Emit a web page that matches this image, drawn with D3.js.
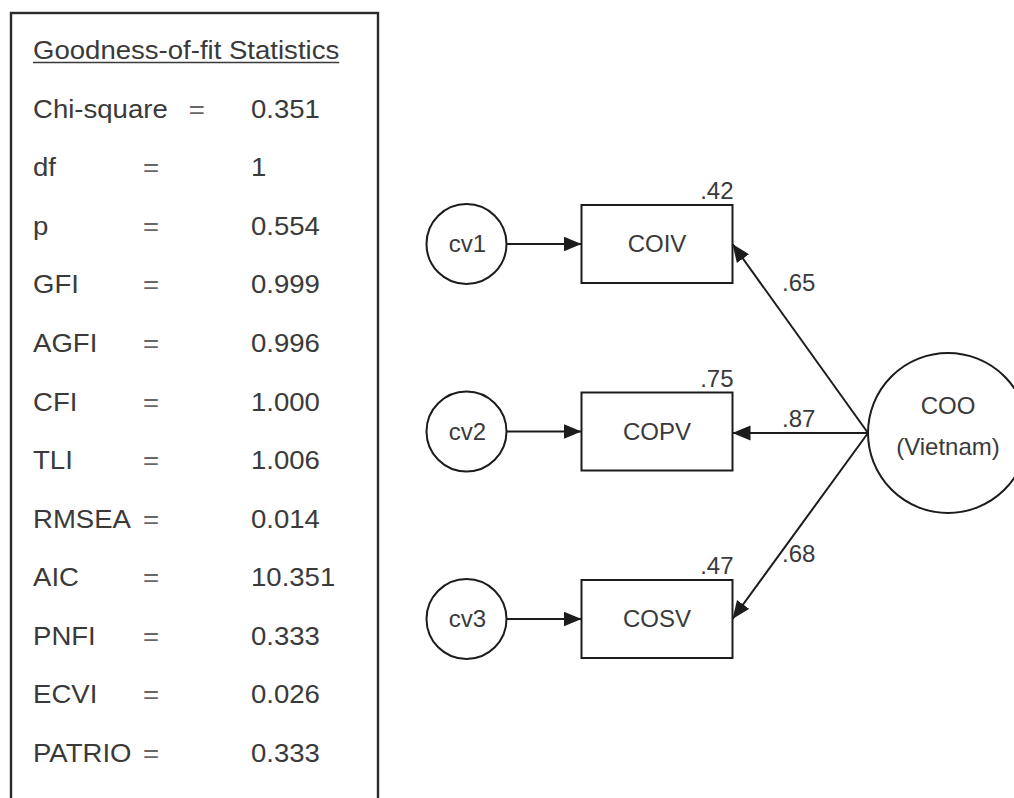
<!DOCTYPE html>
<html>
<head>
<meta charset="utf-8">
<script src="https://cdn.jsdelivr.net/npm/d3@7"></script>
<style>
  html, body { margin: 0; background: #fff; }
  svg { display: block; }
  text { font-family: "Liberation Sans", Arial, Helvetica, sans-serif; }
</style>
</head>
<body>
<svg id="chart" width="1014" height="798"></svg>
<script>
// Goodness-of-fit statistics
const statTitle = "Goodness-of-fit Statistics";
const statLabels = ["Chi-square", "df", "p", "GFI", "AGFI", "CFI", "TLI", "RMSEA", "AIC", "PNFI", "ECVI", "PATRIO"];
const statValues = ["0.351", "1", "0.554", "0.999", "0.996", "1.000", "1.006", "0.014", "10.351", "0.333", "0.026", "0.333"];

// Measurement model: one latent factor, three indicators
const errorTerms = ["cv1", "cv2", "cv3"];
const indicators = ["COIV", "COPV", "COSV"];
const loadings = [0.65, 0.87, 0.68];
const rSquared = [0.42, 0.75, 0.47];
const factorLabel = ["COO", "(Vietnam)"];

const svg = d3.select("#chart");
const ink = "#1c1c1c";
const textInk = "#3a3a3a";
const fmt = v => d3.format(".2f")(v).replace(/^0/, "");

// ---------- statistics panel ----------
const panel = svg.append("g");
panel.append("rect")
  .attr("x", 11).attr("y", 13)
  .attr("width", 367).attr("height", 830)
  .attr("fill", "none").attr("stroke", "#2b2b2b").attr("stroke-width", 2.4);

const rowY = d3.scaleLinear().domain([0, statLabels.length]).range([59, 762]);
const sx = 1.06;
function tableText(x, y, s) {
  return panel.append("text")
    .attr("transform", `translate(${x},${y}) scale(${sx},1)`)
    .attr("font-size", 26)
    .attr("fill", textInk)
    .text(s);
}

const title = tableText(33, rowY(0), statTitle);
const titleW = title.node().getComputedTextLength() * sx;
panel.append("line")
  .attr("x1", 33).attr("x2", 33 + titleW)
  .attr("y1", rowY(0) + 3.5).attr("y2", rowY(0) + 3.5)
  .attr("stroke", textInk).attr("stroke-width", 1.6);

statLabels.forEach((lab, i) => {
  const y = rowY(i + 1);
  const t = tableText(33, y, lab);
  const end = 33 + t.node().getComputedTextLength() * sx;
  const eqX = end > 140 ? end + 21 : 143;
  tableText(eqX, y, "=").attr("fill", "#666");
  tableText(251, y, statValues[i]);
});

// ---------- path diagram ----------
const defs = svg.append("defs");
defs.append("marker")
  .attr("id", "arrow")
  .attr("viewBox", "0 -8 18 16")
  .attr("refX", 18).attr("refY", 0)
  .attr("markerWidth", 18).attr("markerHeight", 16)
  .attr("markerUnits", "userSpaceOnUse")
  .attr("orient", "auto")
  .append("path")
  .attr("d", "M0,-7.5L18,0L0,7.5Z")
  .attr("fill", ink);

const rowScale = d3.scalePoint().domain(indicators).range([244, 619]);
const cvX = 466.5, cvR = 40;
const boxX0 = 581.5, boxW = 151, boxH = 78;
const coo = { x: 948, y: 433, r: 80 };
const cooLeft = coo.x - coo.r;

const diagram = svg.append("g")
  .attr("font-size", 24)
  .attr("fill", textInk);

const rows = diagram.selectAll("g.row")
  .data(indicators.map((name, i) => ({ name, cv: errorTerms[i], load: loadings[i], r2: rSquared[i] })))
  .join("g").attr("class", "row");

// factor -> indicator paths
rows.append("line")
  .attr("x1", cooLeft).attr("y1", coo.y)
  .attr("x2", boxX0 + boxW)
  .attr("y2", d => d.name === indicators[1] ? coo.y : rowScale(d.name))
  .attr("stroke", ink).attr("stroke-width", 2)
  .attr("marker-end", "url(#arrow)");

// error term -> indicator paths
rows.append("line")
  .attr("x1", cvX + cvR).attr("x2", boxX0)
  .attr("y1", d => rowScale(d.name)).attr("y2", d => rowScale(d.name))
  .attr("stroke", ink).attr("stroke-width", 2)
  .attr("marker-end", "url(#arrow)");

// error terms
rows.append("circle")
  .attr("cx", cvX).attr("cy", d => rowScale(d.name)).attr("r", cvR)
  .attr("fill", "#fff").attr("stroke", ink).attr("stroke-width", 2);
rows.append("text")
  .attr("x", cvX + 1).attr("y", d => rowScale(d.name)).attr("dy", "0.35em")
  .attr("text-anchor", "middle")
  .text(d => d.cv);

// observed indicators
rows.append("rect")
  .attr("x", boxX0).attr("y", d => rowScale(d.name) - boxH / 2)
  .attr("width", boxW).attr("height", boxH)
  .attr("fill", "#fff").attr("stroke", ink).attr("stroke-width", 2);
rows.append("text")
  .attr("x", boxX0 + boxW / 2).attr("y", d => rowScale(d.name)).attr("dy", "0.35em")
  .attr("text-anchor", "middle")
  .text(d => d.name);

// squared multiple correlations
rows.append("text")
  .attr("x", boxX0 + boxW + 1)
  .attr("y", d => rowScale(d.name) - boxH / 2 - 6)
  .attr("text-anchor", "end")
  .text(d => fmt(d.r2));

// standardized loadings
rows.append("text")
  .attr("x", 782)
  .attr("y", d => {
    const ry = rowScale(d.name);
    return ry + (coo.y - ry) * 0.277 - 5;
  })
  .text(d => fmt(d.load));

// latent factor
diagram.append("circle")
  .attr("cx", coo.x).attr("cy", coo.y).attr("r", coo.r)
  .attr("fill", "#fff").attr("stroke", ink).attr("stroke-width", 2);
diagram.append("text")
  .attr("x", coo.x).attr("y", coo.y - 19)
  .attr("text-anchor", "middle")
  .text(factorLabel[0]);
diagram.append("text")
  .attr("x", coo.x).attr("y", coo.y + 22)
  .attr("text-anchor", "middle")
  .text(factorLabel[1]);
</script>
</body>
</html>
